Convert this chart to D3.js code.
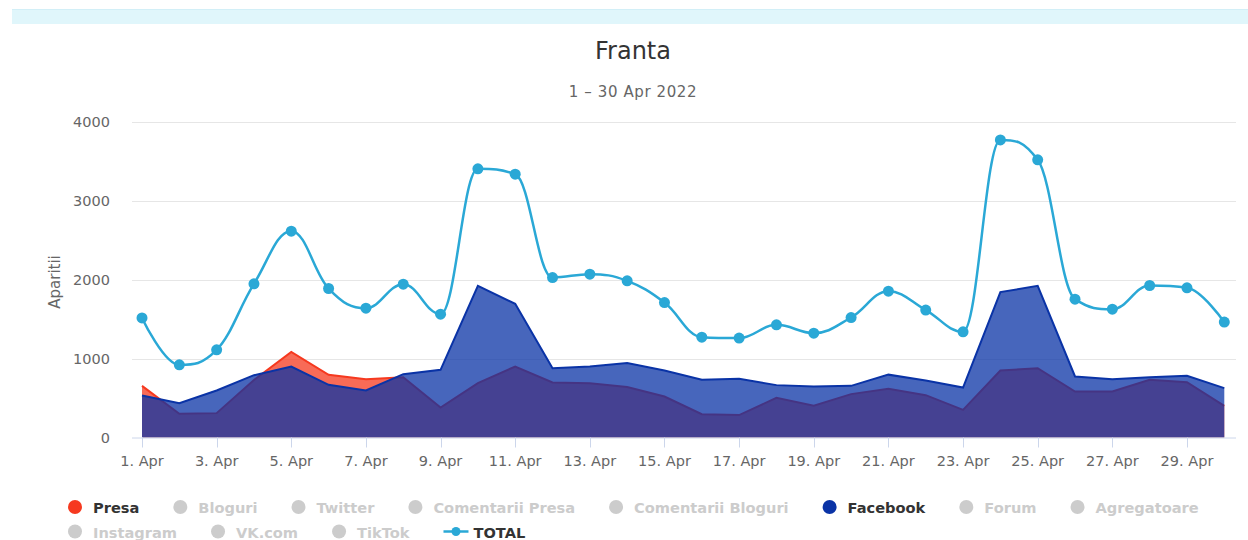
<!DOCTYPE html>
<html>
<head>
<meta charset="utf-8">
<script src="https://cdn.jsdelivr.net/npm/d3@7/dist/d3.min.js"></script>
<style>
  html, body { margin: 0; padding: 0; background: #fff; }
  svg { display: block; font-family: "DejaVu Sans", Verdana, sans-serif; }
</style>
</head>
<body>
<svg id="chart" width="1248" height="540"></svg>
<script>
// ---------- data ----------
const days = [1,2,3,4,5,6,7,8,9,10,11,12,13,14,15,16,17,18,19,20,21,22,23,24,25,26,27,28,29,30];
const presa = [655,300,309,730,1086,795,740,765,380,690,900,697,689,639,520,296,284,503,402,550,617,537,351,849,879,583,583,731,702,402];
const facebook = [532,436,596,790,900,668,596,803,858,1923,1695,879,900,943,850,731,744,664,647,655,797,723,634,1843,1923,774,740,765,782,626];
const total = [1516,921,1111,1948,2616,1889,1640,1944,1564,3406,3338,2028,2071,1986,1711,1272,1260,1428,1323,1521,1855,1616,1340,3773,3520,1754,1627,1927,1898,1463];
const yTicks = [0,1000,2000,3000,4000];
const xTickDays = [1,3,5,7,9,11,13,15,17,19,21,23,25,27,29];
const legendItems = [
  {name:"Presa", visible:true, type:"area", color:"#f6391f"},
  {name:"Bloguri", visible:false, type:"area"},
  {name:"Twitter", visible:false, type:"area"},
  {name:"Comentarii Presa", visible:false, type:"area"},
  {name:"Comentarii Bloguri", visible:false, type:"area"},
  {name:"Facebook", visible:true, type:"area", color:"#0a33a6"},
  {name:"Forum", visible:false, type:"area"},
  {name:"Agregatoare", visible:false, type:"area"},
  {name:"Instagram", visible:false, type:"area"},
  {name:"VK.com", visible:false, type:"area"},
  {name:"TikTok", visible:false, type:"area"},
  {name:"TOTAL", visible:true, type:"line", color:"#2aa8d6"}
];
const title = "Franta";
const subtitle = "1 \u2013 30 Apr 2022";
const yTitle = "Aparitii";

// ---------- layout ----------
const svg = d3.select("#chart");
const plot = {left:132, right:1236, top:122, bottom:437.5};
const x = d3.scaleLinear().domain([1,30]).range([142,1224.3]);
const y = d3.scaleLinear().domain([0,4000]).range([plot.bottom, plot.top]);

// top band
svg.append("rect").attr("x",12).attr("y",9).attr("width",1236).attr("height",15)
  .attr("fill","#e0f6fb");
svg.append("line").attr("x1",12).attr("x2",1248).attr("y1",9.5).attr("y2",9.5)
  .attr("stroke","#d2eff7");

// titles
svg.append("text").attr("x",633).attr("y",59).attr("text-anchor","middle")
  .attr("font-size",24).attr("fill","#333").text(title);
svg.append("text").attr("x",633).attr("y",97).attr("text-anchor","middle")
  .attr("font-size",15).attr("letter-spacing","0.6px").attr("fill","#666").text(subtitle);

// gridlines
svg.append("g").selectAll("line").data(yTicks.filter(d=>d>0)).join("line")
  .attr("x1",plot.left).attr("x2",plot.right)
  .attr("y1",d=>Math.round(y(d))+0.5).attr("y2",d=>Math.round(y(d))+0.5)
  .attr("stroke","#e6e6e6").attr("stroke-width",1);

// y labels
svg.append("g").selectAll("text").data(yTicks).join("text")
  .attr("x",110).attr("y",d=>y(d)+5).attr("text-anchor","end")
  .attr("font-size",14.5).attr("fill","#666").text(d=>d);

// y title
svg.append("text").attr("transform","translate(60,282) rotate(-90)")
  .attr("text-anchor","middle").attr("font-size",15).attr("fill","#666").text(yTitle);

// areas
const area = d3.area().x((d,i)=>x(days[i])).y0(y(0)).y1(d=>y(d)).curve(d3.curveLinear);
const line = d3.line().x((d,i)=>x(days[i])).y(d=>y(d)).curve(d3.curveLinear);

const gP = svg.append("g");
gP.append("path").datum(presa).attr("d",area).attr("fill","#f6391f").attr("fill-opacity",0.75);
gP.append("path").datum(presa).attr("d",line).attr("fill","none").attr("stroke","#f6391f").attr("stroke-width",2);

const gF = svg.append("g");
gF.append("path").datum(facebook).attr("d",area).attr("fill","#0a33a6").attr("fill-opacity",0.75);
gF.append("path").datum(facebook).attr("d",line).attr("fill","none").attr("stroke","#0a33a6").attr("stroke-width",2);

// x axis line and ticks
svg.append("line").attr("x1",plot.left).attr("x2",plot.right)
  .attr("y1",plot.bottom+0.5).attr("y2",plot.bottom+0.5).attr("stroke","#ccd6eb");
svg.append("g").selectAll("line").data(xTickDays).join("line")
  .attr("x1",d=>Math.round(x(d))+0.5).attr("x2",d=>Math.round(x(d))+0.5)
  .attr("y1",plot.bottom).attr("y2",plot.bottom+10).attr("stroke","#ccd6eb");
svg.append("g").selectAll("text").data(xTickDays).join("text")
  .attr("x",d=>x(d)).attr("y",466).attr("text-anchor","middle")
  .attr("font-size",14.5).attr("fill","#666").text(d=>d+". Apr");

// Highcharts-like spline curve for d3.line
function HcSpline(context){ this._context = context; }
HcSpline.prototype = {
  areaStart(){ this._line = 0; }, areaEnd(){ this._line = NaN; },
  lineStart(){ this._pts = []; },
  point(px,py){ this._pts.push({x:+px,y:+py}); },
  lineEnd(){
    const p = this._pts, c = this._context, s = 1.5, den = 2.5;
    if(!p.length) return;
    c.moveTo(p[0].x,p[0].y);
    for(let i=1;i<p.length;i++){
      const pt=p[i], last=p[i-1], next=p[i+1];
      let lcx=pt.x, lcy=pt.y;
      if(next){
        lcx=(s*pt.x+last.x)/den; lcy=(s*pt.y+last.y)/den;
        let rcx=(s*pt.x+next.x)/den, rcy=(s*pt.y+next.y)/den;
        let corr=0;
        if(rcx!==lcx) corr=((rcy-lcy)*(rcx-pt.x))/(rcx-lcx)+pt.y-rcy;
        lcy+=corr; rcy+=corr;
        if(lcy>last.y && lcy>pt.y){ lcy=Math.max(last.y,pt.y); rcy=2*pt.y-lcy; }
        else if(lcy<last.y && lcy<pt.y){ lcy=Math.min(last.y,pt.y); rcy=2*pt.y-lcy; }
        if(rcy>next.y && rcy>pt.y){ rcy=Math.max(next.y,pt.y); lcy=2*pt.y-rcy; }
        else if(rcy<next.y && rcy<pt.y){ rcy=Math.min(next.y,pt.y); lcy=2*pt.y-rcy; }
        pt.rcx=rcx; pt.rcy=rcy;
      }
      const a=last.rcx!==undefined?last.rcx:last.x, b=last.rcy!==undefined?last.rcy:last.y;
      c.bezierCurveTo(a,b,lcx,lcy,pt.x,pt.y);
    }
  }
};
const hcSpline = ctx => new HcSpline(ctx);

const gT = svg.append("g");
gT.append("path").datum(total)
  .attr("d", d3.line().x((d,i)=>x(days[i])).y(d=>y(d)).curve(hcSpline))
  .attr("fill","none").attr("stroke","#2aa8d6").attr("stroke-width",2.5);
gT.selectAll("circle").data(total).join("circle")
  .attr("cx",(d,i)=>x(days[i])).attr("cy",d=>y(d)).attr("r",5.5).attr("fill","#2aa8d6");

// legend
const lg = svg.append("g").attr("font-size",14.6).attr("font-weight","bold");
let cx = 75, row = 0;
const rowY = [507, 531.5];
legendItems.forEach((it,idx)=>{
  const col = it.visible ? it.color : "#cccccc";
  const tcol = it.visible ? "#333333" : "#cccccc";
  const g = lg.append("g");
  let textX;
  if(it.type==="line"){
    g.append("line").attr("x1",cx-7).attr("x2",cx+18).attr("y1",rowY[row]).attr("y2",rowY[row])
      .attr("stroke",col).attr("stroke-width",2.5);
    g.append("circle").attr("cx",cx+5.5).attr("cy",rowY[row]).attr("r",4.5).attr("fill",col);
    textX = cx+23;
  } else {
    g.append("circle").attr("cx",cx).attr("cy",rowY[row]).attr("r",7).attr("fill",col);
    textX = cx+18;
  }
  const t = g.append("text").attr("x",textX).attr("y",rowY[row]+6).attr("fill",tcol).text(it.name);
  const w = t.node().getComputedTextLength();
  cx = textX + w + 41;
  if(idx===7){ row=1; cx=75; }
});
</script>
</body>
</html>
